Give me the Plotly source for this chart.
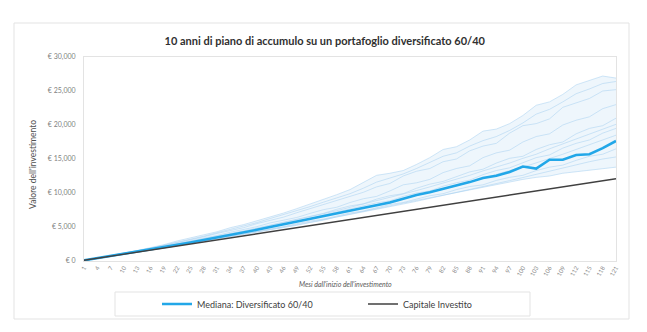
import plotly.graph_objects as go

# ---------------- data ----------------
months = [1, 4, 7, 10, 13, 16, 19, 22, 25, 28, 31, 34, 37, 40, 43, 46, 49, 52, 55, 58,
          61, 64, 67, 70, 73, 76, 79, 82, 85, 88, 91, 94, 97, 100, 103, 106, 109, 112,
          115, 118, 121]
tick_labels = [str(m) for m in months]

y_ticks = [0, 5000, 10000, 15000, 20000, 25000, 30000]
y_tick_labels = ["€ 0", "€ 5,000", "€ 10,000", "€ 15,000", "€ 20,000", "€ 25,000", "€ 30,000"]

capitale = [100, 400, 700, 1000, 1300, 1600, 1900, 2200, 2500, 2800, 3100, 3400, 3700, 4000,
            4300, 4600, 4900, 5200, 5500, 5800, 6100, 6400, 6700, 7000, 7300, 7600, 7900,
            8200, 8500, 8800, 9100, 9400, 9700, 10000, 10300, 10600, 10900, 11200, 11500,
            11800, 12100]

mediana = [100, 410, 720, 1040, 1360, 1690, 2030, 2370, 2720, 3080, 3450, 3820, 4200, 4590,
           4990, 5400, 5820, 6240, 6660, 7060, 7480, 7870, 8200, 8600, 9150, 9700, 10100,
           10600, 11000, 11600, 12200, 12550, 13100, 13900, 13600, 14900, 14900, 15600,
           15700, 16600, 17650]

sim_max = [100, 430, 780, 1150, 1540, 1950, 2400, 2950, 3350, 3850, 4300, 4900, 5350, 5900,
           6500, 7050, 7700, 8350, 9000, 9750, 10500, 11500, 12600, 12900, 13300, 14200,
           15200, 16400, 16800, 17800, 19100, 19400, 20200, 21400, 22900, 23400, 24500,
           25900, 26500, 27200, 26900]

sim_min = [100, 400, 705, 1010, 1320, 1630, 1950, 2270, 2590, 2910, 3230, 3560, 3850, 4150,
           4500, 4880, 5250, 5650, 6000, 6500, 6850, 7300, 7700, 8050, 8500, 8900, 9300,
           9700, 10100, 10500, 10800, 11200, 11600, 12000, 12300, 12500, 12900, 13100,
           13300, 13500, 13800]

sim_b = [100, 420, 760, 1110, 1480, 1870, 2280, 2700, 3150, 3550, 4050, 4500, 4900, 5500,
         6000, 6450, 7100, 7700, 8200, 8900, 9500, 10100, 10900, 11400, 12500, 13200, 13600,
         14600, 15000, 16200, 16900, 17300, 18800, 19900, 20200, 20900, 22600, 23300, 23900,
         25000, 25200]
sim_c = [100, 410, 740, 1080, 1430, 1800, 2180, 2560, 2960, 3380, 3750, 4230, 4650, 5050,
         5600, 6050, 6400, 7000, 7550, 7900, 8600, 9150, 9500, 10300, 11200, 11500, 12000,
         13000, 13600, 14000, 15200, 15900, 16300, 17500, 18300, 18700, 20000, 20700, 21200,
         22400, 23000]
sim_d = [100, 415, 730, 1060, 1400, 1750, 2100, 2470, 2850, 3230, 3620, 4020, 4430, 4850,
         5300, 5650, 6200, 6650, 7000, 7600, 8100, 8400, 9100, 9600, 9900, 10700, 11300,
         11700, 12400, 13100, 13500, 14400, 15100, 15400, 16400, 17100, 17500, 18700, 19500,
         19900, 21000]
sim_e = [100, 405, 720, 1040, 1370, 1710, 2050, 2400, 2760, 3130, 3500, 3880, 4270, 4660,
         5060, 5470, 5900, 6250, 6760, 7200, 7550, 8100, 8550, 8850, 9500, 10000, 10300,
         11000, 11500, 11900, 12700, 13300, 13700, 14500, 15200, 15600, 16600, 17300, 17800,
         18800, 19500]
sim_f = [100, 410, 715, 1035, 1360, 1690, 2030, 2380, 2720, 3080, 3440, 3800, 4180, 4560,
         4950, 5330, 5720, 6140, 6580, 7000, 7430, 7850, 8250, 8700, 9150, 9650, 10100,
         10600, 11050, 11600, 12200, 12700, 13300, 13800, 14400, 15000, 15700, 16400, 17100,
         17800, 18500]
sim_g = [100, 405, 710, 1025, 1340, 1660, 1985, 2310, 2640, 2980, 3320, 3670, 4020, 4380,
         4740, 5050, 5490, 5880, 6150, 6660, 7060, 7350, 7880, 8300, 8600, 9150, 9600,
         9900, 10500, 10950, 11200, 11850, 12300, 12600, 13300, 13800, 14100, 14800, 15400,
         15700, 16500]
sim_h = [100, 400, 705, 1015, 1325, 1640, 1960, 2280, 2600, 2930, 3260, 3600, 3940, 4280,
         4630, 4980, 5340, 5700, 6070, 6440, 6820, 7200, 7590, 7980, 8380, 8780, 9200, 9620,
         10040, 10480, 10920, 11370, 11820, 12280, 12750, 13220, 13700, 14180, 14600, 15000,
         15300]
sim_i = [100, 425, 770, 1130, 1500, 1900, 2300, 2750, 3200, 3650, 4150, 4600, 5150, 5650,
         6250, 6800, 7350, 8000, 8650, 9300, 9900, 10700, 11600, 12200, 12800, 13600, 14500,
         15400, 15900, 16900, 17700, 18300, 19200, 20300, 21600, 22300, 23400, 24600, 25300,
         26100, 26400]
sim_j = [100, 408, 725, 1050, 1385, 1730, 2080, 2440, 2810, 3180, 3560, 3950, 4350, 4760,
         5180, 5600, 6050, 6500, 6950, 7400, 7880, 8350, 8800, 9300, 9800, 10350, 10900,
         11450, 11950, 12600, 13250, 13800, 14400, 15100, 15700, 16500, 17200, 17900, 18600,
         19400, 20100]

sims = [sim_b, sim_c, sim_d, sim_e, sim_f, sim_g, sim_h, sim_i, sim_j]

# ---------------- figure ----------------
W, H = 647, 332
L, R, T, B = 84, 31, 57, 71
pw, ph = W - L - R, H - T - B

def px_x(p):
    return (p - L) / pw

def px_y(p):
    return (H - B - p) / ph

fig = go.Figure()

sim_line = dict(color="rgba(170, 210, 240, 0.55)", width=1)

fig.add_trace(go.Scatter(x=months, y=sim_min, mode="lines", line=sim_line,
                         showlegend=False, hoverinfo="skip"))
fig.add_trace(go.Scatter(x=months, y=sim_max, mode="lines", line=sim_line,
                         fill="tonexty", fillcolor="rgba(205, 228, 247, 0.35)",
                         showlegend=False, hoverinfo="skip"))
for s in sims:
    fig.add_trace(go.Scatter(x=months, y=s, mode="lines", line=sim_line,
                             showlegend=False, hoverinfo="skip"))

fig.add_trace(go.Scatter(x=months, y=mediana, mode="lines",
                         name="Mediana: Diversificato 60/40",
                         line=dict(color="#22A7E8", width=2.6)))
fig.add_trace(go.Scatter(x=months, y=capitale, mode="lines",
                         name="Capitale Investito",
                         line=dict(color="#404040", width=1.4)))

font_family = "Lato, 'Open Sans', sans-serif"

fig.update_layout(
    width=W, height=H,
    margin=dict(l=L, r=R, t=T, b=B, autoexpand=False),
    paper_bgcolor="white", plot_bgcolor="white",
    font=dict(family=font_family, color="#595959"),
    title=dict(text="<b>10 anni di piano di accumulo su un portafoglio diversificato 60/40</b>",
               x=0.502, xanchor="center", y=1 - 41 / H, yanchor="middle",
               font=dict(size=11, color="#303030", family=font_family)),
    xaxis=dict(range=[1, 121], tickmode="array", tickvals=months, ticktext=tick_labels,
               tickangle=-60, tickfont=dict(size=6, color="#8a8a8a"),
               showgrid=False, zeroline=False, showline=True, mirror=True,
               linecolor="#e3e3e3", linewidth=1, ticks=""),
    yaxis=dict(range=[0, 30000], tickmode="array", tickvals=y_ticks, ticktext=y_tick_labels,
               tickfont=dict(size=7, color="#7f7f7f"), showgrid=False, zeroline=False,
               showline=True, mirror=True, linecolor="#e3e3e3", linewidth=1, ticks="",
               ticklabelstandoff=6),
    legend=dict(orientation="h", x=px_x(157), xanchor="left", y=px_y(304), yanchor="middle",
                borderwidth=0, bgcolor="rgba(0,0,0,0)", traceorder="normal",
                font=dict(size=9, color="#404040", family=font_family),
                entrywidth=161, itemwidth=30),
    showlegend=True,
    annotations=[
        dict(text="<i>Mesi dall'inizio dell'investimento</i>", xref="paper", yref="paper",
             x=px_x(345), y=px_y(284), xanchor="center", yanchor="middle", showarrow=False,
             font=dict(size=7, color="#595959", family=font_family)),
        dict(text="Valore dell'investimento", xref="paper", yref="paper",
             x=px_x(33), y=px_y(165), xanchor="center", yanchor="middle", showarrow=False,
             textangle=-90, font=dict(size=8.5, color="#505050", family=font_family)),
    ],
    shapes=[
        dict(type="rect", xref="paper", yref="paper",
             x0=px_x(14), x1=px_x(629), y0=px_y(319), y1=px_y(23),
             line=dict(color="#e3e3e3", width=1), layer="below"),
        dict(type="rect", xref="paper", yref="paper",
             x0=px_x(115), x1=px_x(530), y0=px_y(316), y1=px_y(292),
             line=dict(color="#e3e3e3", width=1), layer="below"),
    ],
)

fig.write_html("out.html")
